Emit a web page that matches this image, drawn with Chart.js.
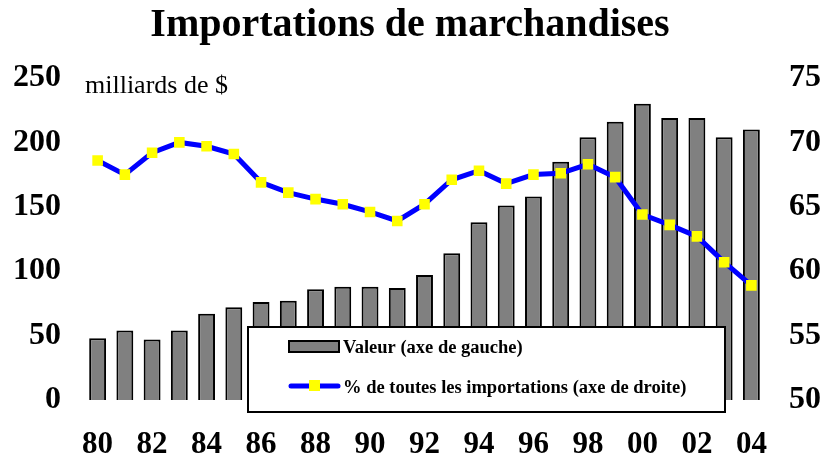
<!DOCTYPE html>
<html>
<head>
<meta charset="utf-8">
<script src="https://cdn.jsdelivr.net/npm/chart.js@4"></script>
<style>
  html, body { margin: 0; padding: 0; background: #fff; }
  #wrap { width: 824px; height: 464px; }
</style>
</head>
<body>
<div id="wrap"><canvas id="chart" width="824" height="464"></canvas></div>
<script>
// Données
const annees = ["80","81","82","83","84","85","86","87","88","89","90","91","92",
                "93","94","95","96","97","98","99","00","01","02","03","04"];
const valeurs = [48, 54, 47, 54, 67, 72, 76, 77, 86, 88, 88, 87, 97,
                 114, 138, 151, 158, 185, 204, 216, 230, 219, 219, 204, 210];
const pourcentages = [68.6, 67.5, 69.2, 70.0, 69.7, 69.1, 66.9, 66.1, 65.6, 65.2, 64.6, 63.9, 65.2,
                      67.1, 67.8, 66.8, 67.5, 67.6, 68.3, 67.3, 64.4, 63.6, 62.7, 60.7, 58.9];
const titre = "Importations de marchandises";
const unite = "milliards de $";
const legendeBarres = "Valeur (axe de gauche)";
const legendeLigne = "% de toutes les importations (axe de droite)";

const police = "'Liberation Serif', 'Times New Roman', serif";

// Titre, unité et légende dessinés à la main
const decor = {
  id: "decor",
  afterDraw(chart) {
    const ctx = chart.ctx;
    ctx.save();
    ctx.fillStyle = "#000";
    ctx.textBaseline = "middle";

    // titre
    ctx.font = "bold 40px " + police;
    ctx.textAlign = "center";
    ctx.fillText(titre, 410, 26);

    // unité
    ctx.font = "26px " + police;
    ctx.textAlign = "left";
    ctx.fillText(unite, 85, 86);
    ctx.restore();
  },
  afterDatasetsDraw(chart) {
    const ctx = chart.ctx;
    ctx.save();
    // boîte de légende
    ctx.fillStyle = "#fff";
    ctx.fillRect(248, 327, 477, 85);
    ctx.strokeStyle = "#000";
    ctx.lineWidth = 2;
    ctx.strokeRect(248, 327, 477, 85);

    // barres
    ctx.fillStyle = "#808080";
    ctx.fillRect(289, 341, 50, 11);
    ctx.strokeRect(289, 341, 50, 11);

    // ligne
    ctx.strokeStyle = "#0000ff";
    ctx.lineWidth = 5;
    ctx.lineCap = "round";
    ctx.beginPath();
    ctx.moveTo(291, 386);
    ctx.lineTo(338, 386);
    ctx.stroke();
    ctx.fillStyle = "#ffff00";
    ctx.fillRect(309, 380, 11, 11);

    ctx.fillStyle = "#000";
    ctx.font = "bold 18.5px " + police;
    ctx.textAlign = "left";
    ctx.textBaseline = "middle";
    ctx.fillText(legendeBarres, 343, 348);
    ctx.fillText(legendeLigne, 343, 388);
    ctx.restore();
  }
};

new Chart(document.getElementById("chart"), {
  data: {
    labels: annees,
    datasets: [
      {
        type: "line",
        label: legendeLigne,
        data: pourcentages,
        yAxisID: "y1",
        borderColor: "#0000ff",
        borderWidth: 5,
        pointStyle: "rect",
        pointRadius: 7.5,
        pointBackgroundColor: "#ffff00",
        pointBorderWidth: 0,
        tension: 0,
        order: 0
      },
      {
        type: "bar",
        label: legendeBarres,
        data: valeurs,
        yAxisID: "y",
        backgroundColor: "#808080",
        borderColor: "#000",
        borderWidth: 2,
        barPercentage: 0.62,
        categoryPercentage: 1,
        order: 1
      }
    ]
  },
  options: {
    responsive: false,
    animation: false,
    layout: { padding: { top: 78, left: 0, right: 0, bottom: 0 } },
    plugins: {
      legend: { display: false },
      tooltip: { enabled: false }
    },
    scales: {
      x: {
        grid: { display: false, drawTicks: false },
        border: { display: false },
        ticks: {
          autoSkip: false,
          maxRotation: 0,
          padding: 26,
          color: "#000",
          font: { family: police, weight: "bold", size: 31 },
          callback: function (v, i) { return i % 2 === 0 ? annees[i] : ""; }
        },
        afterFit: s => { s.height = 64; }
      },
      y: {
        position: "left",
        min: 0,
        max: 250,
        grid: { display: false, drawTicks: false },
        border: { display: false },
        ticks: {
          stepSize: 50,
          padding: 23,
          color: "#000",
          font: { family: police, weight: "bold", size: 32 }
        },
        afterFit: s => { s.width = 84; }
      },
      y1: {
        position: "right",
        min: 50,
        max: 75,
        grid: { display: false, drawTicks: false },
        border: { display: false },
        ticks: {
          stepSize: 5,
          padding: 24,
          color: "#000",
          font: { family: police, weight: "bold", size: 32 }
        },
        afterFit: s => { s.width = 59; }
      }
    }
  },
  plugins: [decor]
});
</script>
</body>
</html>
